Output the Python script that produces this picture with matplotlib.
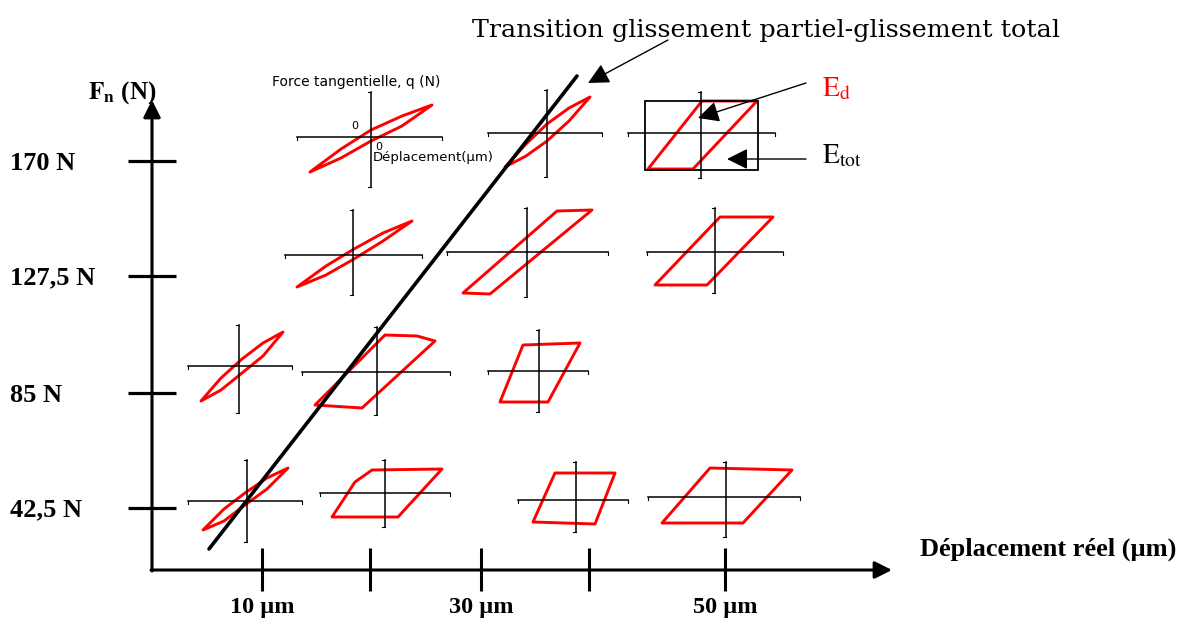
import matplotlib
matplotlib.use("Agg")
import matplotlib.pyplot as plt
from matplotlib.patches import Polygon, Rectangle

plt.rcParams['mathtext.fontset'] = 'stix'
SERIF = 'Liberation Serif'

#------ chart values ----------------------------------------------------------
force_labels = ["42,5 N", "85 N", "127,5 N", "170 N"]   # normal force levels
disp_labels = ["10 µm", "30 µm", "50 µm"]              # imposed displacement
disp_label_idx = [0, 2, 4]                              # ticks that carry a label

# fretting loops (tangential force vs displacement), one per test
loop_force = [170, 170, 170, 127.5, 127.5, 127.5, 85, 85, 85,
              42.5, 42.5, 42.5, 42.5]
# outline of each loop, offsets (px around the crosshair)
loop_outlines = [
    [(-61, 35), (-30, 12), (0, -7), (31, -21), (61, -32),
     (31, -11), (0, 4), (-30, 21)],
    [(-42, 34), (-21, 11), (0, -9), (22, -25), (43, -36),
     (22, -12), (0, 8), (-21, 23)],
    [(-53, 36), (1, -32), (56, -32), (-8, 36)],
    [(-56, 32), (-27, 11), (1, -6), (30, -22), (59, -34),
     (30, -14), (1, 4), (-27, 20)],
    [(-64, 41), (30, -41), (65, -42), (-37, 42)],
    [(-60, 33), (5, -35), (58, -35), (-8, 33)],
    [(-38, 35), (-18, 12), (3, -7), (24, -23), (44, -34),
     (24, -10), (3, 7), (-18, 24)],
    [(-62, 33), (8, -37), (40, -36), (58, -31), (-15, 36)],
    [(-39, 31), (-16, -26), (41, -28), (9, 31)],
    [(-44, 29), (-23, 8), (-2, -8), (20, -23), (41, -33),
     (20, -12), (-2, 4), (-23, 20)],
    [(-53, 24), (-30, -11), (-13, -23), (57, -24), (13, 24)],
    [(-43, 22), (-21, -27), (39, -27), (19, 24)],
    [(-64, 26), (-16, -29), (66, -27), (17, 26)],
]

#------ layout (pixels) -------------------------------------------------------
W, H = 1184, 622
ytick_px = [508, 393, 276, 161]
xtick_px = [262, 370, 481, 589, 725]
x0, y0 = 152, 570
loop_centres = [(371, 137), (547, 133), (701, 133),
                (353, 255), (527, 252), (715, 252),
                (239, 366), (377, 372), (539, 371),
                (247, 501), (385, 493), (576, 500), (726, 497)]
cross_arms = [(74, 71, 45, 50), (59, 55, 43, 44), (73, 74, 41, 45),
              (68, 69, 45, 40), (80, 81, 44, 45), (68, 68, 44, 41),
              (51, 53, 41, 47), (75, 73, 45, 43), (51, 49, 41, 41),
              (59, 55, 41, 41), (65, 65, 33, 34), (58, 52, 38, 32),
              (78, 74, 35, 40)]

fig = plt.figure(figsize=(W / 100, H / 100), dpi=100)
ax = fig.add_axes([0, 0, 1, 1])
ax.set_xlim(0, W)
ax.set_ylim(H, 0)
ax.axis('off')

# main axes with arrows
arrow = dict(arrowstyle='-|>', lw=2.2, color='k', mutation_scale=26,
             shrinkA=0, shrinkB=0)
ax.annotate('', xy=(x0, 100), xytext=(x0, y0 + 1), arrowprops=arrow)
ax.annotate('', xy=(892, y0), xytext=(x0 - 1, y0), arrowprops=arrow)

for yp, lab in zip(ytick_px, force_labels):
    ax.plot([128, 176], [yp, yp], c='k', lw=2.3, solid_capstyle='butt')
    ax.text(10, yp + 2, lab, fontfamily=SERIF, fontweight='bold',
            fontsize=19, ha='left', va='center')
for xp in xtick_px:
    ax.plot([xp, xp], [548, 591], c='k', lw=2.2, solid_capstyle='butt')
for i, lab in zip(disp_label_idx, disp_labels):
    ax.text(xtick_px[i], 608, lab, fontfamily=SERIF, fontweight='bold',
            fontsize=17.5, ha='center', va='center')

ax.text(88, 93, r'$\mathbf{F}_{\mathbf{n}}$ (N)', fontfamily=SERIF,
        fontweight='bold', fontsize=18, ha='left', va='center')
ax.text(920, 549, "Déplacement réel (µm)", fontfamily=SERIF,
        fontweight='bold', fontsize=19, ha='left', va='center')

# loops with their crosshairs
for (cx, cy), (l, r, u, d), pts in zip(loop_centres, cross_arms, loop_outlines):
    ax.plot([cx - l, cx + r], [cy, cy], c='k', lw=1.1)
    ax.plot([cx, cx], [cy - u, cy + d], c='k', lw=1.1)
    for ex in (cx - l, cx + r):
        ax.plot([ex, ex], [cy, cy + 3], c='k', lw=0.8)
    ax.plot([cx - 3, cx], [cy - u, cy - u], c='k', lw=0.8)
    ax.plot([cx - 3, cx], [cy + d, cy + d], c='k', lw=0.8)
    poly = Polygon([(cx + px, cy + py) for px, py in pts], closed=True,
                   fill=False, ec='#ff0000', lw=2.1, joinstyle='round')
    ax.add_patch(poly)

# axis names of the small loop graph
ax.text(272, 82, "Force tangentielle, q (N)", fontfamily='DejaVu Sans',
        fontsize=10, ha='left', va='center')
ax.text(373, 158, "Déplacement(µm)", fontfamily='DejaVu Sans',
        fontsize=9.5, ha='left', va='center')
ax.text(355, 126, "0", fontfamily='DejaVu Sans', fontsize=8, ha='center', va='center')
ax.text(379, 147, "0", fontfamily='DejaVu Sans', fontsize=8, ha='center', va='center')

# energy box on the 50 µm / 170 N loop
ax.add_patch(Rectangle((645, 101), 113, 69, fill=False, ec='k', lw=1.3))

# partial slip / gross slip transition
ax.plot([209, 577], [549, 76], c='k', lw=2.6, solid_capstyle='round')

thin = dict(arrowstyle='-|>', lw=1.0, color='k', mutation_scale=32,
            shrinkA=0, shrinkB=0)
ax.annotate('', xy=(588, 83), xytext=(668, 40), arrowprops=thin)
ax.annotate('', xy=(698, 118), xytext=(806, 83), arrowprops=thin)
ax.annotate('', xy=(727, 159), xytext=(806, 159), arrowprops=thin)

ax.text(472, 30, "Transition glissement partiel-glissement total",
        fontfamily='DejaVu Serif', fontsize=18.3, ha='left', va='center')
ax.text(822, 88, r'$\mathrm{E_d}$', fontsize=20, color='#ff0000',
        ha='left', va='center')
ax.text(822, 155, r'$\mathrm{E_{tot}}$', fontsize=20, color='k',
        ha='left', va='center')

fig.savefig("out.png", dpi=100)
